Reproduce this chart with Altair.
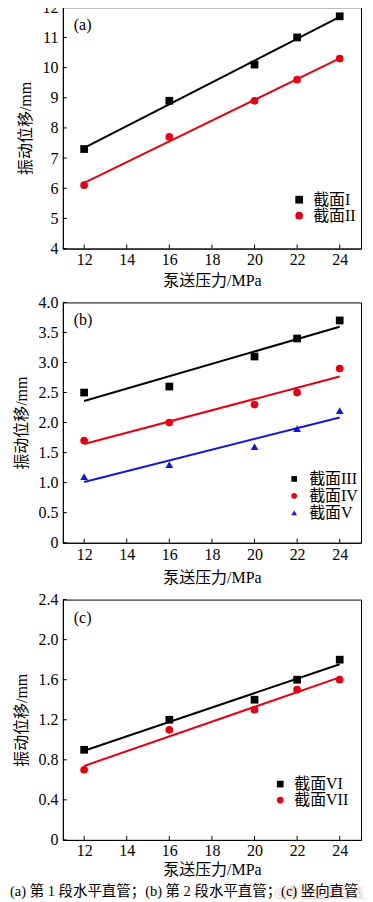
import altair as alt
import pandas as pd

pressure = [12, 16, 20, 22, 24]

a_names = ["截面I", "截面II"]
a_I = [7.3, 8.9, 10.1, 11.0, 11.7]
a_II = [6.1, 7.7, 8.9, 9.6, 10.3]

b_names = ["截面III", "截面IV", "截面V"]
b_III = [2.5, 2.6, 3.1, 3.4, 3.7]
b_IV = [1.7, 2.0, 2.3, 2.5, 2.9]
b_V = [1.1, 1.3, 1.6, 1.9, 2.2]

c_names = ["截面VI", "截面VII"]
c_VI = [0.9, 1.2, 1.4, 1.6, 1.8]
c_VII = [0.7, 1.1, 1.3, 1.5, 1.6]

x_ticks = [12, 14, 16, 18, 20, 22, 24]
a_yticks = [4, 5, 6, 7, 8, 9, 10, 11, 12]
b_yticks = [0, 0.5, 1.0, 1.5, 2.0, 2.5, 3.0, 3.5, 4.0]
c_yticks = [0, 0.4, 0.8, 1.2, 1.6, 2.0, 2.4]

x_title = "泵送压力/MPa"
y_title = "振动位移/mm"
caption = ["(a) 第 1 段水平直管；(b) 第 2 段水平直管；(c) 竖向直管"]
watermark = ["@有色金属在线"]

BLACK = "#000000"
RED = "#e60012"
BLUE = "#1414dc"
FONT = "Liberation Serif, Noto Sans CJK SC"
W = 299


def panel(label, names, series, colors, shapes, ydom, yticks, yexpr, H,
          lab_pad, title_pad, leg_x, leg_y, leg_size, leg_row, leg_off, extra=()):
    rows = []
    for n, vals in zip(names, series):
        for p, v in zip(pressure, vals):
            rows.append({"x": p, "y": v, "series": n})
    df = pd.DataFrame(rows)
    xs = alt.Scale(domain=[11, 25], nice=False, zero=False)
    ys = alt.Scale(domain=ydom, nice=False, zero=False)
    xax = alt.Axis(values=x_ticks, title=x_title, labelPadding=lab_pad,
                   titlePadding=title_pad, format="d", labelOverlap=False)
    yax = alt.Axis(values=yticks, title=y_title, labelPadding=5,
                   titlePadding=8, labelExpr=yexpr, labelOverlap=False)
    leg = alt.Legend(title=None, orient="none", legendX=leg_x, legendY=leg_y,
                     symbolSize=leg_size, rowPadding=leg_row,
                     labelOffset=leg_off, padding=0)
    layers = []
    for n, c in zip(names, colors):
        layers.append(
            alt.Chart(df)
            .transform_filter(alt.datum.series == n)
            .transform_regression("x", "y")
            .mark_line(color=c, strokeWidth=2)
            .encode(x=alt.X("x:Q", scale=xs, axis=xax),
                    y=alt.Y("y:Q", scale=ys, axis=yax))
        )
    pts = alt.Chart(df).mark_point(filled=True, opacity=1, size=60).encode(
        x=alt.X("x:Q", scale=xs, axis=xax),
        y=alt.Y("y:Q", scale=ys, axis=yax),
        color=alt.Color("series:N", scale=alt.Scale(domain=names, range=colors), legend=leg),
        shape=alt.Shape("series:N", scale=alt.Scale(domain=names, range=shapes), legend=leg),
    )
    layers.append(pts)
    xt = alt.Chart(pd.DataFrame({"x": x_ticks})).mark_rule(color="black", strokeWidth=1).encode(
        x=alt.X("x:Q", scale=xs, axis=xax), y=alt.value(H), y2=alt.value(H - 4))
    yt = alt.Chart(pd.DataFrame({"y": yticks})).mark_rule(color="black", strokeWidth=1).encode(
        y=alt.Y("y:Q", scale=ys, axis=yax), x=alt.value(0), x2=alt.value(4))
    lab = alt.Chart(pd.DataFrame({"t": [label]})).mark_text(
        align="left", baseline="middle", font=FONT, fontSize=16, color="black"
    ).encode(text="t:N", x=alt.value(11), y=alt.value(18))
    layers += [xt, yt, lab]
    layers += list(extra)
    return alt.layer(*layers).properties(width=W, height=H)


one_dec = "datum.value == 0 ? '0' : format(datum.value, '.1f')"

wm = alt.Chart(pd.DataFrame({"t": watermark})).mark_text(
    align="left", baseline="middle", font="Noto Sans CJK SC", fontSize=13,
    color="#f3c9c9").encode(text="t:N", x=alt.value(212), y=alt.value(294))
cap = alt.Chart(pd.DataFrame({"t": caption})).mark_text(
    align="left", baseline="middle", font=FONT, fontSize=14.5,
    color="black").encode(text="t:N", x=alt.value(-53), y=alt.value(293))

pa = panel("(a)", a_names, [a_I, a_II], [BLACK, RED], ["square", "circle"],
           [4, 12], a_yticks, "format(datum.value, 'd')", 242,
           3, 5, 229, 185, 60, 0, 6)
pb = panel("(b)", b_names, [b_III, b_IV, b_V], [BLACK, RED, BLUE],
           ["square", "circle", "triangle-up"],
           [0, 4], b_yticks, one_dec, 241,
           4, 7, 224, 169, 32, 1, 7)
pc = panel("(c)", c_names, [c_VI, c_VII], [BLACK, RED], ["square", "circle"],
           [0, 2.4], c_yticks, one_dec, 241,
           3, 3, 210, 177, 45, 0, 6, extra=(wm, cap))

chart = (
    alt.vconcat(pa, pb, pc, spacing=4)
    .resolve_scale(color="independent", shape="independent")
    .resolve_legend(color="independent", shape="independent")
    .properties(padding={"top": -11, "left": 1, "right": 0, "bottom": 0})
    .configure_view(stroke="black", strokeWidth=1)
    .configure_axis(domainColor="black", domainWidth=1, ticks=False, grid=False,
                    labelFont=FONT, labelFontSize=16, labelColor="black",
                    titleFont=FONT, titleFontSize=16, titleFontWeight="normal",
                    titleColor="black")
    .configure_legend(labelFont=FONT, labelFontSize=16, labelColor="black",
                      symbolStrokeWidth=0)
)

chart.save("out.html", embed_options={"renderer": "svg", "actions": False})
